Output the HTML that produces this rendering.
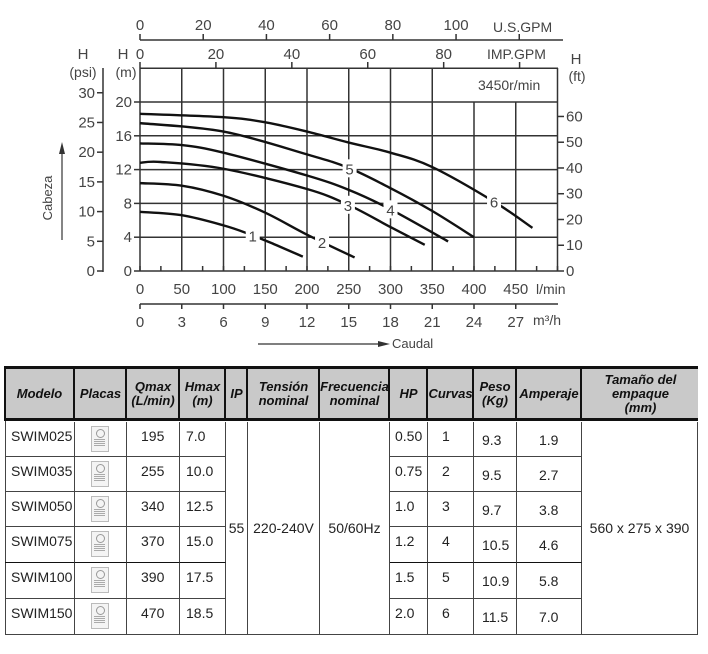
<!DOCTYPE html>
<html><head><meta charset="utf-8">
<style>
body{margin:0;background:#fff;width:708px;height:654px;overflow:hidden;position:relative;font-family:"Liberation Sans",sans-serif}
svg text{font-family:"Liberation Sans",sans-serif;fill:#444}
#tbl{position:absolute;left:0;top:0}
.c{position:absolute;box-sizing:border-box;font-family:"Liberation Sans Narrow","Liberation Sans",sans-serif;color:#222;font-size:14px}
.h{background:#c9c9c9;font-weight:bold;font-style:italic;font-size:13px;line-height:14px;display:flex;align-items:center;justify-content:center;text-align:center;border-right:2px solid #111;color:#111}
.d{border-right:1px solid #444;border-bottom:1px solid #444;padding:6px 0 0 6px}
.doc{position:absolute;width:16px;height:24px;border:1px solid #bbb;background:#f4f4f4}
</style></head><body>
<svg id="chart" width="708" height="360" style="position:absolute;left:0;top:0">
<g id="grid"></g>
<g id="axes"></g>
<g id="curves"></g>
</svg>
<div id="tbl"></div>
<script>
const curveIds=["1","2","3","4","5","6"];
const curveQ=[[0,50,100,130,160,195],[0,50,100,150,200,257],[0,25,100,200,250,300,341],[0,50,100,200,250,300,369],[0,100,200,250,300,350,400],[0,100,150,200,250,300,350,424,470]];
const curveH=[[7.0,6.6,5.4,4.4,3.2,1.7],[10.4,10.1,8.9,6.9,4.3,1.6],[12.8,12.9,12.1,9.7,7.8,5.2,3.1],[15.1,14.9,14.0,11.3,9.6,7.3,3.5],[17.5,16.5,13.8,12.2,9.8,7.1,4.0],[18.6,18.2,17.6,16.5,15.2,14.0,12.3,8.2,5.1]];
const labelQ=[135,218,249,300,251,424];
const qTicks=[0,50,100,150,200,250,300,350,400,450];
const m3Ticks=[0,3,6,9,12,15,18,21,24,27];
const mTicks=[0,4,8,12,16,20];
const psiTicks=[0,5,10,15,20,25,30];
const ftTicks=[0,10,20,30,40,50,60];
const usTicks=[0,20,40,60,80,100];
const impTicks=[0,20,40,60,80];
const NS="http://www.w3.org/2000/svg";
const X=q=>140+q*0.835, Y=m=>271-m*8.45;
function el(p,t,a,txt){const e=document.createElementNS(NS,t);for(const k in a)e.setAttribute(k,a[k]);if(txt!==undefined)e.textContent=txt;p.appendChild(e);return e;}
const G=document.getElementById('grid'),A=document.getElementById('axes'),C=document.getElementById('curves');
const L={stroke:"#333","stroke-width":1.5,fill:"none"};
for(let q=0;q<=500;q+=50){const l=el(G,'line',Object.assign({x1:X(q),x2:X(q),y1:(q>=400&&q<500)?Y(20):68,y2:271},L));}
for(const m of mTicks.concat([24])){const l=el(G,'line',Object.assign({x1:140,x2:558,y1:Y(m),y2:Y(m)},L));}
let t=el(A,'text',{x:478,y:90,"font-size":14,fill:"#222"},"3450r/min");
for(let q=0;q<=500;q+=25){el(A,'line',Object.assign({x1:X(q),x2:X(q),y1:271,y2:266},L));}
qTicks.forEach(q=>{const e=el(A,'text',{x:X(q),y:294,"font-size":15,"text-anchor":"middle"},q);});
el(A,'text',{x:536,y:294,"font-size":14},"l/min");
el(A,'line',Object.assign({x1:140,x2:558,y1:304,y2:304},L));
m3Ticks.forEach(v=>{el(A,'line',Object.assign({x1:X(v*1000/60),x2:X(v*1000/60),y1:304,y2:309},L));const e=el(A,'text',{x:X(v*1000/60),y:327,"font-size":15,"text-anchor":"middle"},v);});
el(A,'text',{x:533,y:325,"font-size":14},"m³/h");
el(A,'line',{x1:258,x2:380,y1:344,y2:344,stroke:"#333","stroke-width":1.2});
el(A,'path',{d:"M378 341 L390 344 L378 347Z",fill:"#333"});
el(A,'text',{x:392,y:348,"font-size":13},"Caudal");
el(A,'line',Object.assign({x1:140,x2:563,y1:40,y2:40},L));
usTicks.concat([120]).forEach(v=>{el(A,'line',Object.assign({x1:X(v*3.785),x2:X(v*3.785),y1:40,y2:34},L));});
usTicks.forEach(v=>{const e=el(A,'text',{x:X(v*3.785),y:30,"font-size":15,"text-anchor":"middle"},v);});
el(A,'text',{x:493,y:32,"font-size":14},"U.S.GPM");
impTicks.concat([100]).forEach(v=>{el(A,'line',Object.assign({x1:X(v*4.546),x2:X(v*4.546),y1:68,y2:62},L));});
impTicks.forEach(v=>{const e=el(A,'text',{x:X(v*4.546),y:59,"font-size":15,"text-anchor":"middle"},v);});
el(A,'text',{x:487,y:59,"font-size":14},"IMP.GPM");
mTicks.forEach(m=>{el(A,'line',Object.assign({x1:134,x2:140,y1:Y(m),y2:Y(m)},L));const e=el(A,'text',{x:132,y:Y(m)+5,"font-size":15,"text-anchor":"end"},m);});
el(A,'text',{x:123,y:59,"font-size":15,"text-anchor":"middle"},"H");
el(A,'text',{x:126,y:77,"font-size":14,"text-anchor":"middle"},"(m)");
el(A,'line',Object.assign({x1:103,x2:103,y1:68,y2:272},L));
psiTicks.forEach(p=>{const y=Y(p*0.7031);el(A,'line',Object.assign({x1:97,x2:103,y1:y,y2:y},L));const e=el(A,'text',{x:95,y:y+5,"font-size":15,"text-anchor":"end"},p);});
el(A,'text',{x:83,y:59,"font-size":15,"text-anchor":"middle"},"H");
el(A,'text',{x:83,y:77,"font-size":14,"text-anchor":"middle"},"(psi)");
ftTicks.forEach(f=>{const y=Y(f*0.3048);el(A,'line',Object.assign({x1:558,x2:564,y1:y,y2:y},L));const e=el(A,'text',{x:566,y:y+5,"font-size":15},f);});
el(A,'text',{x:576,y:64,"font-size":15,"text-anchor":"middle"},"H");
el(A,'text',{x:577,y:81,"font-size":14,"text-anchor":"middle"},"(ft)");
el(A,'line',{x1:62,x2:62,y1:240,y2:152,stroke:"#333","stroke-width":1.2});
el(A,'path',{d:"M59 154 L62 142 L65 154Z",fill:"#333"});
el(A,'text',{x:0,y:0,"font-size":13,"text-anchor":"middle",transform:"translate(52,198) rotate(-90)"},"Cabeza");
function interp(qs,hs,q){for(let i=0;i<qs.length-1;i++){if(q<=qs[i+1]){const f=(q-qs[i])/(qs[i+1]-qs[i]);return hs[i]+f*(hs[i+1]-hs[i]);}}return hs[hs.length-1];}
curveIds.forEach((id,i)=>{
 const P=curveQ[i].map((q,j)=>[X(q),Y(curveH[i][j])]);
 let d="M"+P[0][0]+" "+P[0][1];
 for(let j=0;j<P.length-1;j++){const p0=P[j-1]||P[j],p1=P[j],p2=P[j+1],p3=P[j+2]||P[j+1];
  d+=` C${p1[0]+(p2[0]-p0[0])/6} ${p1[1]+(p2[1]-p0[1])/6} ${p2[0]-(p3[0]-p1[0])/6} ${p2[1]-(p3[1]-p1[1])/6} ${p2[0]} ${p2[1]}`;}
 const path=el(C,'path',{d:d,stroke:"#111","stroke-width":2.4,fill:"none"});
 
 
 const lx=X(labelQ[i]),ly=Y(interp(curveQ[i],curveH[i],labelQ[i]));
 el(C,'rect',{x:lx-7,y:ly-9,width:14,height:18,fill:"#fff"});
 const tl=el(C,'text',{x:lx,y:ly+6,"font-size":15,"text-anchor":"middle"},id);
 
 
});
const T=document.getElementById('tbl');
const cols=[5,75,127,180,226,248,320,390,428,474,517,582,698];
const heads=["Modelo","Placas","Qmax<br>(L/min)","Hmax<br>(m)","IP","Tensión<br>nominal","Frecuencia<br>nominal","HP","Curvas","Peso<br>(Kg)","Amperaje","Tamaño del<br>empaque<br>(mm)"];
const rowsY=[422,457,492,527,563,599,635];
const models=["SWIM025","SWIM035","SWIM050","SWIM075","SWIM100","SWIM150"];
const qmax=["195","255","340","370","390","470"],hmax=["7.0","10.0","12.5","15.0","17.5","18.5"],hp=["0.50","0.75","1.0","1.2","1.5","2.0"],curv=["1","2","3","4","5","6"],peso=["9.3","9.5","9.7","10.5","10.9","11.5"],amp=["1.9","2.7","3.8","4.6","5.8","7.0"];
function cell(cls,x,y,w,h,html,name,extra){const d=document.createElement('div');d.className='c '+cls;d.style.cssText=`left:${x}px;top:${y}px;width:${w}px;height:${h}px;`+(extra||'');d.innerHTML=html;T.appendChild(d);return d;}
const hb=document.createElement('div');hb.style.cssText='position:absolute;left:4px;top:366px;width:694px;height:55px;border:3px solid #111;box-sizing:border-box;background:#c9c9c9';T.appendChild(hb);
heads.forEach((h,i)=>{cell('h',cols[i]+1,369,cols[i+1]-cols[i]-1,49,h,'header-'+i,i==11?'border-right:none':'');});
const lb=document.createElement('div');lb.style.cssText='position:absolute;left:5px;top:421px;width:1px;height:214px;background:#444';T.appendChild(lb);
const merged={4:"55",5:"220-240V",6:"50/60Hz",11:"560 x 275 x 390"};
for(let r=0;r<6;r++){
 const y=rowsY[r],h=rowsY[r+1]-y;
 const vals=[models[r],"",qmax[r],hmax[r],null,null,null,hp[r],curv[r],peso[r],amp[r],null];
 vals.forEach((v,i)=>{if(v===null)return;
  const pad=(i==2||i==8)?'padding-left:14px;':(i==9?'padding-top:10px;padding-left:8px;':(i==10?'padding-top:10px;padding-left:22px;':(i==7?'padding-left:5px;':'')));
  const c=cell('d',cols[i],y,cols[i+1]-cols[i],h,v,'cell-'+r+'-'+i,pad+(r==3&&i<4||r==3&&i>6&&i<11?'border-bottom:1.5px solid #111;':''));
  if(i==1){const dc=document.createElement('div');dc.className='doc';dc.style.left='16px';dc.style.top='4px';dc.innerHTML='<div style="position:absolute;left:4px;top:2px;width:7px;height:7px;border:1px solid #999;border-radius:50%"></div><div style="position:absolute;left:2px;top:12px;width:11px;height:8px;background:repeating-linear-gradient(#aaa 0 1px,transparent 1px 2px)"></div>';c.appendChild(dc);}
 });
}
Object.keys(merged).forEach(k=>{const i=+k;cell('d',cols[i],422,cols[i+1]-cols[i],213,merged[k],'cell-merged-'+i,'display:flex;align-items:center;justify-content:center;padding:0;');});
</script>
</body></html>
